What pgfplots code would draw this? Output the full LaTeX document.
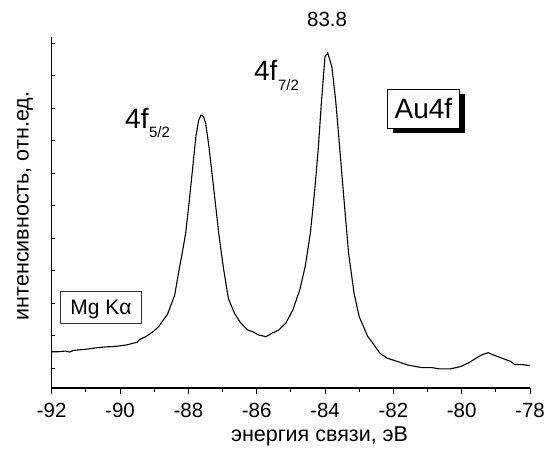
\documentclass[border=0pt]{standalone}
\usepackage{fontspec}
\setmainfont{Liberation Sans}
\usepackage{pgfplots}
\pgfplotsset{compat=1.18}
\usetikzlibrary{calc,shadows}

% Au 4f spectrum
\pgfplotstableread{
x y
-92.00 0.51
-91.80 0.51
-91.60 0.53
-91.48 0.50
-91.37 0.55
-91.17 0.57
-90.96 0.59
-90.70 0.63
-90.39 0.66
-90.20 0.67
-90.00 0.69
-89.80 0.72
-89.62 0.77
-89.50 0.80
-89.42 0.89
-89.25 0.97
-89.03 1.13
-88.87 1.28
-88.73 1.49
-88.61 1.66
-88.49 2.00
-88.40 2.25
-88.29 2.92
-88.17 3.60
-88.08 4.15
-87.97 5.18
-87.87 6.20
-87.78 7.13
-87.70 7.62
-87.63 7.79
-87.56 7.75
-87.49 7.52
-87.41 6.92
-87.33 6.20
-87.22 5.18
-87.11 4.15
-86.98 3.13
-86.83 2.15
-86.65 1.69
-86.47 1.40
-86.27 1.18
-86.10 1.12
-85.96 1.03
-85.80 0.99
-85.73 0.97
-85.55 1.08
-85.35 1.18
-85.14 1.40
-84.94 1.80
-84.74 2.41
-84.58 3.13
-84.43 4.15
-84.31 5.38
-84.20 6.72
-84.10 8.26
-84.00 9.59
-83.92 9.70
-83.80 9.28
-83.69 8.26
-83.59 7.03
-83.46 5.38
-83.31 3.54
-83.15 2.31
-83.00 1.59
-82.88 1.30
-82.75 0.98
-82.60 0.77
-82.39 0.46
-82.18 0.31
-81.88 0.21
-81.57 0.10
-81.16 0.02
-80.86 0.02
-80.65 -0.02
-80.35 -0.02
-80.04 0.05
-79.79 0.17
-79.58 0.31
-79.38 0.43
-79.22 0.48
-79.07 0.41
-78.82 0.31
-78.56 0.21
-78.46 0.12
-78.20 0.11
-78.00 0.08
}\spectrum

\begin{document}
\begin{tikzpicture}
\begin{axis}[
  scale only axis, width=478.3pt, height=351.3pt,
  xmin=-92, xmax=-78, ymin=-0.606, ymax=10.2,
  axis x line*=bottom, axis y line*=left,
  axis line style={line width=1.3pt},
  xtick={-92,-90,...,-78},
  xticklabels={-92,-90,-88,-86,-84,-82,-80,-78},
  minor xtick={-91,-89,...,-79},
  ytick=\empty,
  tick align=outside,
  major tick length=6.5pt, minor tick length=4.3pt,
  every tick/.style={black, line width=1pt},
  xticklabel style={font=\fontsize{20.5}{21}\selectfont, inner sep=0pt, anchor=north, yshift=-8pt},
  xlabel={энергия связи, эВ},
  xlabel style={at={(axis description cs:0.56,-0.1529)}, anchor=base,
                font=\fontsize{21.5}{22}\selectfont},
  ylabel={интенсивность, отн.ед.},
  ylabel style={at={(axis description cs:-0.0558,0.518)}, anchor=center,
                font=\fontsize{21.5}{22}\selectfont},
  clip=false,
]
\addplot[black, line width=1.1pt, mark=none] table[x=x, y=y] {\spectrum};

\node[anchor=base west, inner sep=0pt] at (axis cs:-89.855,7.385)
  {\fontsize{28}{30}\selectfont 4f\hspace{0.5pt}\raisebox{-9.5pt}{\fontsize{15}{16}\selectfont 5/2}};
\node[anchor=base west, inner sep=0pt] at (axis cs:-86.08,8.84)
  {\fontsize{28}{30}\selectfont 4f\hspace{0.5pt}\raisebox{-9.5pt}{\fontsize{15}{16}\selectfont 7/2}};
\node[anchor=base, inner sep=0pt] at (axis cs:-83.94,10.51)
  {\fontsize{20.5}{21}\selectfont 83.8};
\node[draw=black, line width=0.8pt, fill=white, minimum width=71.6pt, minimum height=39pt,
      inner sep=0pt,
      drop shadow={shadow xshift=5.5pt, shadow yshift=-5pt, fill=black, opacity=1}]
  at (axis cs:-81.12,7.985) {\fontsize{28}{30}\selectfont Au4f};
\node[draw=black!80, line width=0.8pt, fill=white, minimum width=80.3pt, minimum height=31.6pt,
      inner sep=0pt]
  at (axis cs:-90.56,1.87) {\fontsize{21}{22}\selectfont\raisebox{0pt}[\height][0pt]{Mg Kα}};
\end{axis}

% y ticks point inward and are shorter
\begin{axis}[
  scale only axis, width=478.3pt, height=351.3pt,
  xmin=-92, xmax=-78, ymin=-0.606, ymax=10.2,
  hide x axis, axis y line*=left,
  axis line style={line width=1.3pt},
  ytick={0,1,...,10}, yticklabels={},
  tick align=inside, major tick length=3.5pt,
  every tick/.style={black, line width=1pt},
]
\end{axis}

\pgfresetboundingbox
\path ($(current axis.south west)+(-51.7pt,-69pt)$) rectangle ($(current axis.north east)+(16pt,36.7pt)$);
\end{tikzpicture}
\end{document}
